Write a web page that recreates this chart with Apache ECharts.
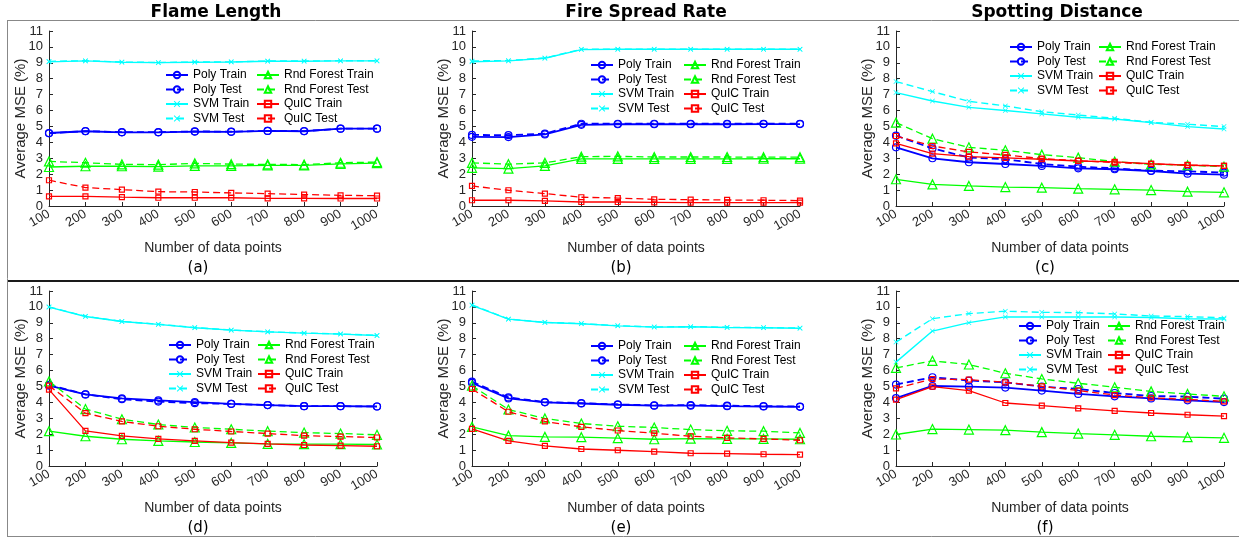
<!DOCTYPE html>
<html lang="en">
<head>
  <meta charset="UTF-8">
  <title>Average MSE vs number of data points</title>
  <style>
    html, body { margin: 0; padding: 0; background: #fff; }
  </style>
</head>
<body>
  <div id="main" style="width: 1239px;height:541px;"></div>

  <script src="https://cdn.jsdelivr.net/npm/echarts@6.0.0/dist/echarts.min.js"></script>

  <script type="text/javascript">
    // x axis categories and y axis ticks
    const xLabels = ['100', '200', '300', '400', '500', '600', '700', '800', '900', '1000'];
    const yMin = 0, yMax = 11, yStep = 1;

    const col1Names = ['Poly Train', 'Poly Test', 'SVM Train', 'SVM Test'];
    const col2Names = ['Rnd Forest Train', 'Rnd Forest Test', 'QuIC Train', 'QuIC Test'];

    // (a) Flame Length
    const aPolyTrain = [4.59, 4.70, 4.63, 4.63, 4.68, 4.66, 4.72, 4.70, 4.86, 4.86];
    const aPolyTest  = [4.57, 4.71, 4.64, 4.64, 4.69, 4.67, 4.72, 4.71, 4.86, 4.86];
    const aSvmTrain  = [9.06, 9.12, 9.04, 9.01, 9.04, 9.05, 9.10, 9.10, 9.12, 9.12];
    const aSvmTest   = [9.09, 9.13, 9.05, 9.02, 9.05, 9.06, 9.11, 9.11, 9.13, 9.13];
    const aRfTrain   = [2.45, 2.50, 2.50, 2.48, 2.52, 2.52, 2.55, 2.55, 2.65, 2.70];
    const aRfTest    = [2.80, 2.72, 2.62, 2.60, 2.68, 2.63, 2.62, 2.60, 2.72, 2.76];
    const aQuicTrain = [0.61, 0.61, 0.56, 0.52, 0.52, 0.52, 0.48, 0.48, 0.47, 0.47];
    const aQuicTest  = [1.62, 1.16, 1.03, 0.90, 0.88, 0.82, 0.78, 0.72, 0.67, 0.65];

    // (b) Fire Spread Rate
    const bPolyTrain = [4.35, 4.33, 4.50, 5.10, 5.14, 5.14, 5.14, 5.14, 5.15, 5.15];
    const bPolyTest  = [4.47, 4.45, 4.55, 5.17, 5.17, 5.17, 5.17, 5.17, 5.17, 5.17];
    const bSvmTrain  = [9.07, 9.12, 9.29, 9.83, 9.85, 9.85, 9.85, 9.85, 9.85, 9.85];
    const bSvmTest   = [9.12, 9.14, 9.30, 9.85, 9.86, 9.86, 9.86, 9.86, 9.86, 9.86];
    const bRfTrain   = [2.40, 2.35, 2.52, 2.96, 2.96, 2.96, 2.96, 2.96, 2.97, 2.97];
    const bRfTest    = [2.71, 2.63, 2.71, 3.10, 3.12, 3.08, 3.08, 3.08, 3.07, 3.07];
    const bQuicTrain = [0.36, 0.36, 0.32, 0.25, 0.25, 0.23, 0.21, 0.21, 0.21, 0.21];
    const bQuicTest  = [1.26, 0.99, 0.78, 0.55, 0.50, 0.42, 0.40, 0.38, 0.36, 0.34];

    // (c) Spotting Distance
    const cPolyTrain = [3.69, 3.00, 2.75, 2.64, 2.52, 2.37, 2.31, 2.20, 2.03, 1.97];
    const cPolyTest  = [4.42, 3.62, 3.05, 2.94, 2.64, 2.47, 2.37, 2.22, 2.18, 2.10];
    const cSvmTrain  = [7.13, 6.60, 6.20, 6.00, 5.79, 5.58, 5.47, 5.24, 4.99, 4.84];
    const cSvmTest   = [7.82, 7.19, 6.58, 6.29, 5.93, 5.72, 5.51, 5.26, 5.14, 4.99];
    const cRfTrain   = [1.68, 1.36, 1.26, 1.19, 1.15, 1.09, 1.05, 1.00, 0.90, 0.86];
    const cRfTest    = [5.24, 4.23, 3.69, 3.50, 3.23, 3.04, 2.79, 2.62, 2.56, 2.47];
    const cQuicTrain = [3.94, 3.29, 3.10, 3.02, 2.94, 2.83, 2.77, 2.66, 2.56, 2.52];
    const cQuicTest  = [4.40, 3.77, 3.40, 3.21, 2.98, 2.85, 2.73, 2.64, 2.58, 2.52];

    // (d) Flame Length, second set
    const dPolyTrain = [5.05, 4.50, 4.25, 4.12, 4.02, 3.91, 3.83, 3.76, 3.76, 3.74];
    const dPolyTest  = [5.10, 4.50, 4.20, 4.05, 3.95, 3.90, 3.83, 3.76, 3.76, 3.74];
    const dSvmTrain  = [9.99, 9.40, 9.08, 8.90, 8.69, 8.54, 8.43, 8.35, 8.29, 8.20];
    const dSvmTest   = [10.0, 9.41, 9.09, 8.91, 8.70, 8.55, 8.44, 8.36, 8.30, 8.21];
    const dRfTrain   = [2.19, 1.87, 1.68, 1.58, 1.51, 1.45, 1.39, 1.37, 1.37, 1.35];
    const dRfTest    = [5.32, 3.58, 2.94, 2.61, 2.42, 2.31, 2.19, 2.10, 2.04, 1.96];
    const dQuicTrain = [4.80, 2.21, 1.89, 1.70, 1.58, 1.47, 1.39, 1.32, 1.28, 1.24];
    const dQuicTest  = [5.05, 3.32, 2.80, 2.50, 2.31, 2.17, 2.04, 1.91, 1.85, 1.79];

    // (e) Fire Spread Rate, second set
    const ePolyTrain = [5.22, 4.25, 4.00, 3.93, 3.85, 3.79, 3.79, 3.76, 3.74, 3.72];
    const ePolyTest  = [5.30, 4.31, 4.02, 3.95, 3.87, 3.81, 3.83, 3.79, 3.76, 3.74];
    const eSvmTrain  = [10.10, 9.23, 9.02, 8.94, 8.81, 8.73, 8.75, 8.71, 8.69, 8.66];
    const eSvmTest   = [10.12, 9.24, 9.03, 8.95, 8.82, 8.74, 8.76, 8.72, 8.70, 8.67];
    const eRfTrain   = [2.46, 1.91, 1.83, 1.81, 1.75, 1.68, 1.72, 1.70, 1.70, 1.68];
    const eRfTest    = [5.05, 3.55, 2.99, 2.67, 2.50, 2.42, 2.29, 2.21, 2.19, 2.08];
    const eQuicTrain = [2.33, 1.58, 1.26, 1.07, 0.99, 0.90, 0.80, 0.78, 0.74, 0.72];
    const eQuicTest  = [4.84, 3.41, 2.80, 2.46, 2.23, 2.06, 1.87, 1.77, 1.70, 1.62];

    // (f) Spotting Distance, second set
    const fPolyTrain = [4.27, 5.03, 4.99, 4.93, 4.74, 4.53, 4.38, 4.25, 4.13, 4.02];
    const fPolyTest  = [5.12, 5.58, 5.37, 5.26, 4.99, 4.84, 4.59, 4.40, 4.36, 4.23];
    const fSvmTrain  = [6.53, 8.48, 9.01, 9.37, 9.37, 9.37, 9.37, 9.33, 9.26, 9.24];
    const fSvmTest   = [7.79, 9.26, 9.58, 9.73, 9.66, 9.64, 9.56, 9.43, 9.39, 9.31];
    const fRfTrain   = [1.98, 2.32, 2.29, 2.25, 2.13, 2.04, 1.96, 1.87, 1.81, 1.77];
    const fRfTest    = [6.17, 6.61, 6.38, 5.83, 5.47, 5.20, 4.95, 4.69, 4.53, 4.38];
    const fQuicTrain = [4.17, 4.99, 4.74, 3.96, 3.79, 3.62, 3.47, 3.33, 3.22, 3.14];
    const fQuicTest  = [4.88, 5.47, 5.43, 5.26, 5.01, 4.74, 4.46, 4.29, 4.19, 4.06];

    var myChart = echarts.init(document.getElementById('main'));
    myChart.setOption(setOption());

    function setOption() {
      const axisColor = '#262626';
      const axisFont = "'Liberation Sans', Arial, sans-serif";
      const xMark = 'path://M0,1L1,0L5,4L9,0L10,1L6,5L10,9L9,10L5,6L1,10L0,9L4,5Z';

      const look = {
        'Poly Train':       { color: '#0000ff', symbol: 'circle', size: 7, dash: 'solid', width: 1.8, hollow: true },
        'Poly Test':        { color: '#0000ff', symbol: 'circle', size: 7, dash: [7, 4], width: 1.8, hollow: true },
        'SVM Train':        { color: '#00ffff', symbol: xMark, size: 5, dash: 'solid', width: 1.4, hollow: false },
        'SVM Test':         { color: '#00ffff', symbol: xMark, size: 5, dash: [7, 4], width: 1.4, hollow: false },
        'Rnd Forest Train': { color: '#00ff00', symbol: 'triangle', size: 9, dash: 'solid', width: 1.3, hollow: true },
        'Rnd Forest Test':  { color: '#00ff00', symbol: 'triangle', size: 9, dash: [7, 4], width: 1.3, hollow: true },
        'QuIC Train':       { color: '#ff0000', symbol: 'rect', size: 5, dash: 'solid', width: 1.3, hollow: true },
        'QuIC Test':        { color: '#ff0000', symbol: 'rect', size: 5, dash: [7, 4], width: 1.3, hollow: true }
      };

      const panels = [
        { left: 49, top: 31, tag: '(a)', leg: [165, 256, 69],
          data: [aPolyTrain, aPolyTest, aSvmTrain, aSvmTest, aRfTrain, aRfTest, aQuicTrain, aQuicTest] },
        { left: 472, top: 31, tag: '(b)', leg: [590, 683, 59],
          data: [bPolyTrain, bPolyTest, bSvmTrain, bSvmTest, bRfTrain, bRfTest, bQuicTrain, bQuicTest] },
        { left: 896, top: 31, tag: '(c)', leg: [1009, 1098, 41],
          data: [cPolyTrain, cPolyTest, cSvmTrain, cSvmTest, cRfTrain, cRfTest, cQuicTrain, cQuicTest] },
        { left: 49, top: 291, tag: '(d)', leg: [168, 257, 339],
          data: [dPolyTrain, dPolyTest, dSvmTrain, dSvmTest, dRfTrain, dRfTest, dQuicTrain, dQuicTest] },
        { left: 472, top: 291, tag: '(e)', leg: [590, 683, 340],
          data: [ePolyTrain, ePolyTest, eSvmTrain, eSvmTest, eRfTrain, eRfTest, eQuicTrain, eQuicTest] },
        { left: 896, top: 291, tag: '(f)', leg: [1018, 1107, 320],
          data: [fPolyTrain, fPolyTest, fSvmTrain, fSvmTest, fRfTrain, fRfTest, fQuicTrain, fQuicTest] }
      ];
      const seriesOrder = ['Poly Train', 'Poly Test', 'SVM Train', 'SVM Test',
        'Rnd Forest Train', 'Rnd Forest Test', 'QuIC Train', 'QuIC Test'];

      const grid = [], xAxis = [], yAxis = [], series = [], legend = [];
      const graphic = [];

      panels.forEach((p, i) => {
        grid.push({ left: p.left, top: p.top, width: 328, height: 175 });
        xAxis.push({
          type: 'category', gridIndex: i, data: xLabels, boundaryGap: false,
          name: 'Number of data points', nameLocation: 'middle', nameGap: 35, nameMoveOverlap: false,
          nameTextStyle: { fontSize: 14, color: axisColor, fontFamily: axisFont },
          axisLine: { lineStyle: { color: axisColor, width: 1 } },
          axisTick: { inside: true, length: 4, alignWithLabel: true, lineStyle: { color: axisColor } },
          axisLabel: { rotate: 30, margin: 7, fontSize: 13, color: axisColor, fontFamily: axisFont, interval: 0 },
          splitLine: { show: false }
        });
        yAxis.push({
          type: 'value', gridIndex: i, min: yMin, max: yMax, interval: yStep,
          name: 'Average MSE (%)', nameLocation: 'middle', nameGap: 21, nameMoveOverlap: false,
          nameTextStyle: { fontSize: 15, color: axisColor, fontFamily: axisFont },
          axisLine: { show: true, lineStyle: { color: axisColor, width: 1 } },
          axisTick: { show: true, inside: true, length: 4, lineStyle: { color: axisColor } },
          axisLabel: { margin: 6, fontSize: 13, color: axisColor, fontFamily: axisFont },
          splitLine: { show: false }
        });

        seriesOrder.forEach((name, k) => {
          const s = look[name];
          series.push({
            type: 'line', name: name, xAxisIndex: i, yAxisIndex: i,
            data: p.data[k],
            symbol: s.symbol, symbolSize: s.size, showSymbol: true,
            lineStyle: { color: s.color, width: s.width, type: s.dash },
            itemStyle: {
              color: s.hollow ? 'rgba(255,255,255,0)' : s.color,
              borderColor: s.color, borderWidth: s.hollow ? 1.2 : 0
            },
            emphasis: { disabled: true },
            z: 2 + k
          });
        });

        [col1Names, col2Names].forEach((names, c) => {
          legend.push({
            orient: 'vertical', left: p.leg[c], top: p.leg[2], padding: 0,
            itemWidth: 22, itemHeight: 8, itemGap: 2.5, selectedMode: false,
            textStyle: { fontSize: 12, color: '#000', fontFamily: axisFont },
            data: names
          });
        });

        graphic.push({
          type: 'text', x: p.left + 149, y: p.top + 237,
          style: { text: p.tag, font: '15px DejaVu Sans', fill: '#000', textAlign: 'center', textVerticalAlign: 'middle' }
        });
      });

      // column titles
      [['Flame Length', 216], ['Fire Spread Rate', 646], ['Spotting Distance', 1057]].forEach(t => {
        graphic.push({
          type: 'text', x: t[1], y: 12.5, z: 10,
          style: { text: t[0], font: 'bold 17px DejaVu Sans', fill: '#000', textAlign: 'center', textVerticalAlign: 'middle' }
        });
      });

      // figure frame lines
      graphic.push(
        { type: 'line', shape: { x1: 8, y1: 20.5, x2: 1239, y2: 20.5 }, style: { stroke: '#888', lineWidth: 1 }, z: 1 },
        { type: 'line', shape: { x1: 7.5, y1: 20, x2: 7.5, y2: 537 }, style: { stroke: '#888', lineWidth: 1 } },
        { type: 'line', shape: { x1: 8, y1: 281, x2: 1239, y2: 281 }, style: { stroke: '#1a1a1a', lineWidth: 2 } },
        { type: 'line', shape: { x1: 8, y1: 536.5, x2: 1239, y2: 536.5 }, style: { stroke: '#888', lineWidth: 1 } }
      );

      return {
        backgroundColor: '#fff',
        animation: false,
        grid: grid,
        xAxis: xAxis,
        yAxis: yAxis,
        legend: legend,
        series: series,
        graphic: graphic
      };
    }
  </script>
</body>
</html>
